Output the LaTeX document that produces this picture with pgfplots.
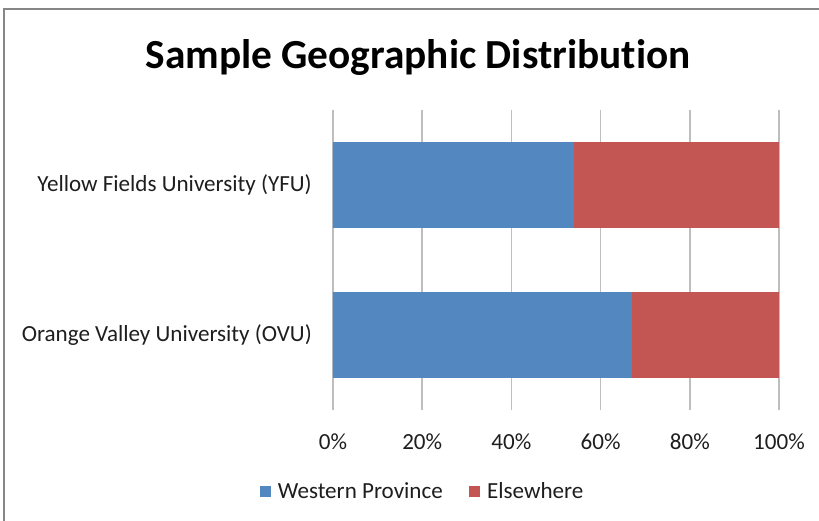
\documentclass[border=0pt]{standalone}
\usepackage{pgfplots}
\pgfplotsset{compat=1.18}
\usepackage{fontspec}
\setmainfont{Carlito}[Ligatures=NoCommon]
\definecolor{wpblue}{RGB}{82,135,192}
\definecolor{elred}{RGB}{195,86,82}
\definecolor{gridgray}{RGB}{190,190,190}
\definecolor{framegray}{RGB}{134,134,134}
\definecolor{txt}{RGB}{30,30,30}
\begin{document}
\begin{tikzpicture}
\useasboundingbox (0,0) rectangle (614.25pt,-390.75pt);
\draw[framegray, line width=1pt] (3pt,-390.75pt) -- (3pt,-6.75pt) -- (614.25pt,-6.75pt);
\node[font=\fontsize{31}{37}\selectfont\bfseries, anchor=base] at (313.5pt,-51pt) {Sample Geographic Distribution};
\begin{axis}[
  at={(249.75pt,-307.5pt)}, anchor=south west,
  scale only axis, width=334.5pt, height=225pt,
  xbar stacked, bar width=0.573,
  xmin=0, xmax=100, ymin=-0.5, ymax=1.5,
  xtick={0,20,40,60,80,100},
  xticklabels={0\%,20\%,40\%,60\%,80\%,100\%},
  ytick={0,1},
  yticklabels={Orange Valley University (OVU), Yellow Fields University (YFU)},
  xmajorgrids, major grid style={gridgray, line width=1.3pt},
  axis line style={draw=none},
  major tick length=0pt,
  tick label style={font=\fontsize{17.3}{20}\selectfont, text=txt},
  xticklabel style={anchor=base, yshift=-29.25pt},
  yticklabel style={anchor=east, inner sep=0pt, xshift=-15.75pt},
  legend style={draw=none, at={(0.202,-0.273)}, anchor=center, legend columns=2, font=\fontsize{17.3}{20}\selectfont, text=txt,
    /tikz/every odd column/.append style={column sep=3pt},
    /tikz/every even column/.append style={column sep=18pt}},
  legend image code/.code={\fill[#1] (0pt,-4.1pt) rectangle (8.25pt,4.1pt);},
]
\addplot[fill=wpblue, draw=none] coordinates {(67,0) (54,1)};
\addplot[fill=elred, draw=none] coordinates {(33,0) (46,1)};
\legend{Western Province, Elsewhere}
\end{axis}
\end{tikzpicture}
\end{document}
